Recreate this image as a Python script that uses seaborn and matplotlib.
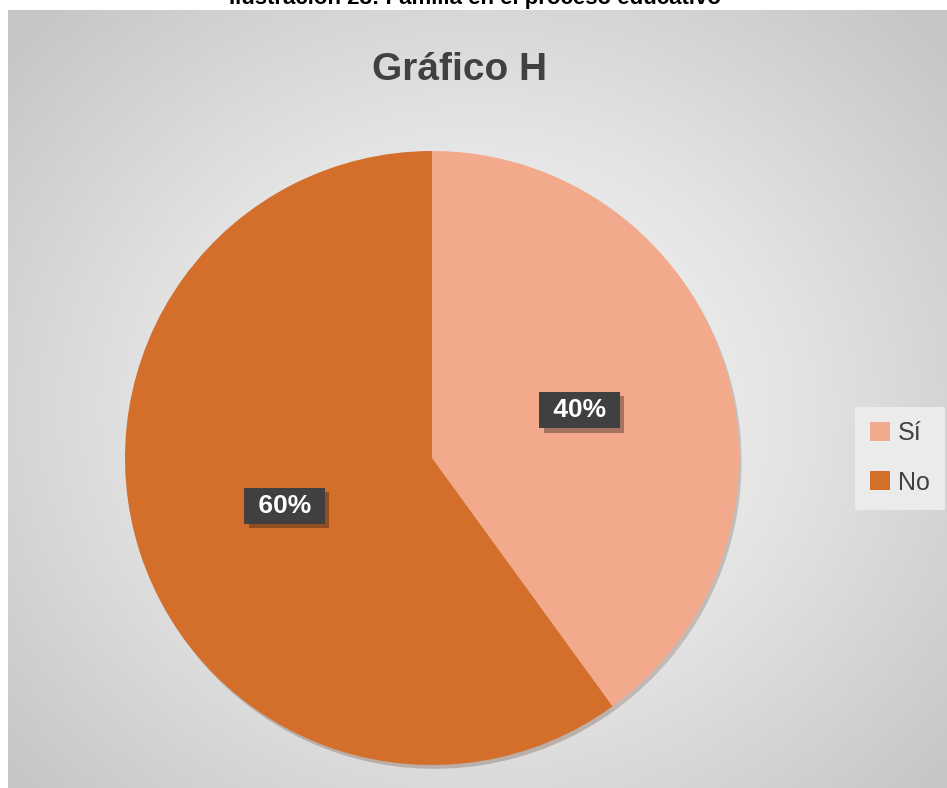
import numpy as np
import matplotlib.pyplot as plt
import matplotlib.patheffects as pe
from matplotlib.patches import Patch
from matplotlib.colors import LinearSegmentedColormap
import seaborn as sns

# Data
categories = ['Sí', 'No']
values = [40, 60]
colors = ['#F3A98B', '#D46E2B']

sns.set_style('white')
plt.rcParams['font.family'] = ['Liberation Sans', 'DejaVu Sans']

fig = plt.figure(figsize=(9.47, 7.88), dpi=100)
W, H = 947, 788

# radial gradient background panel
bg = fig.add_axes([8 / W, 0, (W - 8) / W, (H - 10) / H])
yy, xx = np.mgrid[0:778, 0:939]
r = np.sqrt(((xx - 470) / 620.0) ** 2 + ((yy - 400) / 560.0) ** 2)
grad_cmap = LinearSegmentedColormap.from_list('g', ['#fafafa', '#e4e4e4', '#c6c6c6'])
bg.imshow(np.clip(r, 0, 1), cmap=grad_cmap, vmin=0, vmax=1, aspect='auto')
bg.set_axis_off()

# pie
ax = fig.add_axes([(432 - 307) / W, (H - 458 - 307) / H, 614 / W, 614 / H])
wedges, texts, autotexts = ax.pie(
    values, colors=colors, startangle=90, counterclock=False,
    autopct=lambda p: f' {p:.0f}% ', pctdistance=0.505,
    wedgeprops=dict(linewidth=0),
    shadow=dict(ox=0.006, oy=-0.009, shade=0.6, alpha=0.25),
    textprops=dict(color='white', fontsize=19, fontweight='bold'))
for t in autotexts:
    t.set_bbox(dict(boxstyle='square,pad=0.24', facecolor='#404040', edgecolor='none'))
    t.get_bbox_patch().set_path_effects([pe.SimplePatchShadow(offset=(3, -3), alpha=0.35), pe.Normal()])
ax.set_xlim(-1, 1)
ax.set_ylim(-1, 1)
ax.set_aspect('equal')
ax.set_axis_off()

# titles
fig.text(475 / W, 1 - 4 / H, 'Ilustración 28: Familia en el proceso educativo',
         ha='center', va='baseline', fontsize=16, fontweight='bold', color='black')
fig.text(460 / W, 1 - 70 / H, 'Gráfico H', ha='center', va='center',
         fontsize=28, fontweight='bold', color='#404040')

# legend
handles = [Patch(facecolor=c, edgecolor='none') for c in colors]
leg = fig.legend(handles, categories, loc='center', bbox_to_anchor=(900 / W, 1 - 458 / H),
                 fontsize=18, frameon=True, fancybox=False, handlelength=0.8,
                 handleheight=0.8, handletextpad=0.3, labelspacing=1.0,
                 borderpad=0.6, labelcolor='#404040')
leg.get_frame().set_facecolor('#ebebeb')
leg.get_frame().set_edgecolor('none')
leg.get_frame().set_alpha(1)

fig.savefig('out.png', dpi=100)
